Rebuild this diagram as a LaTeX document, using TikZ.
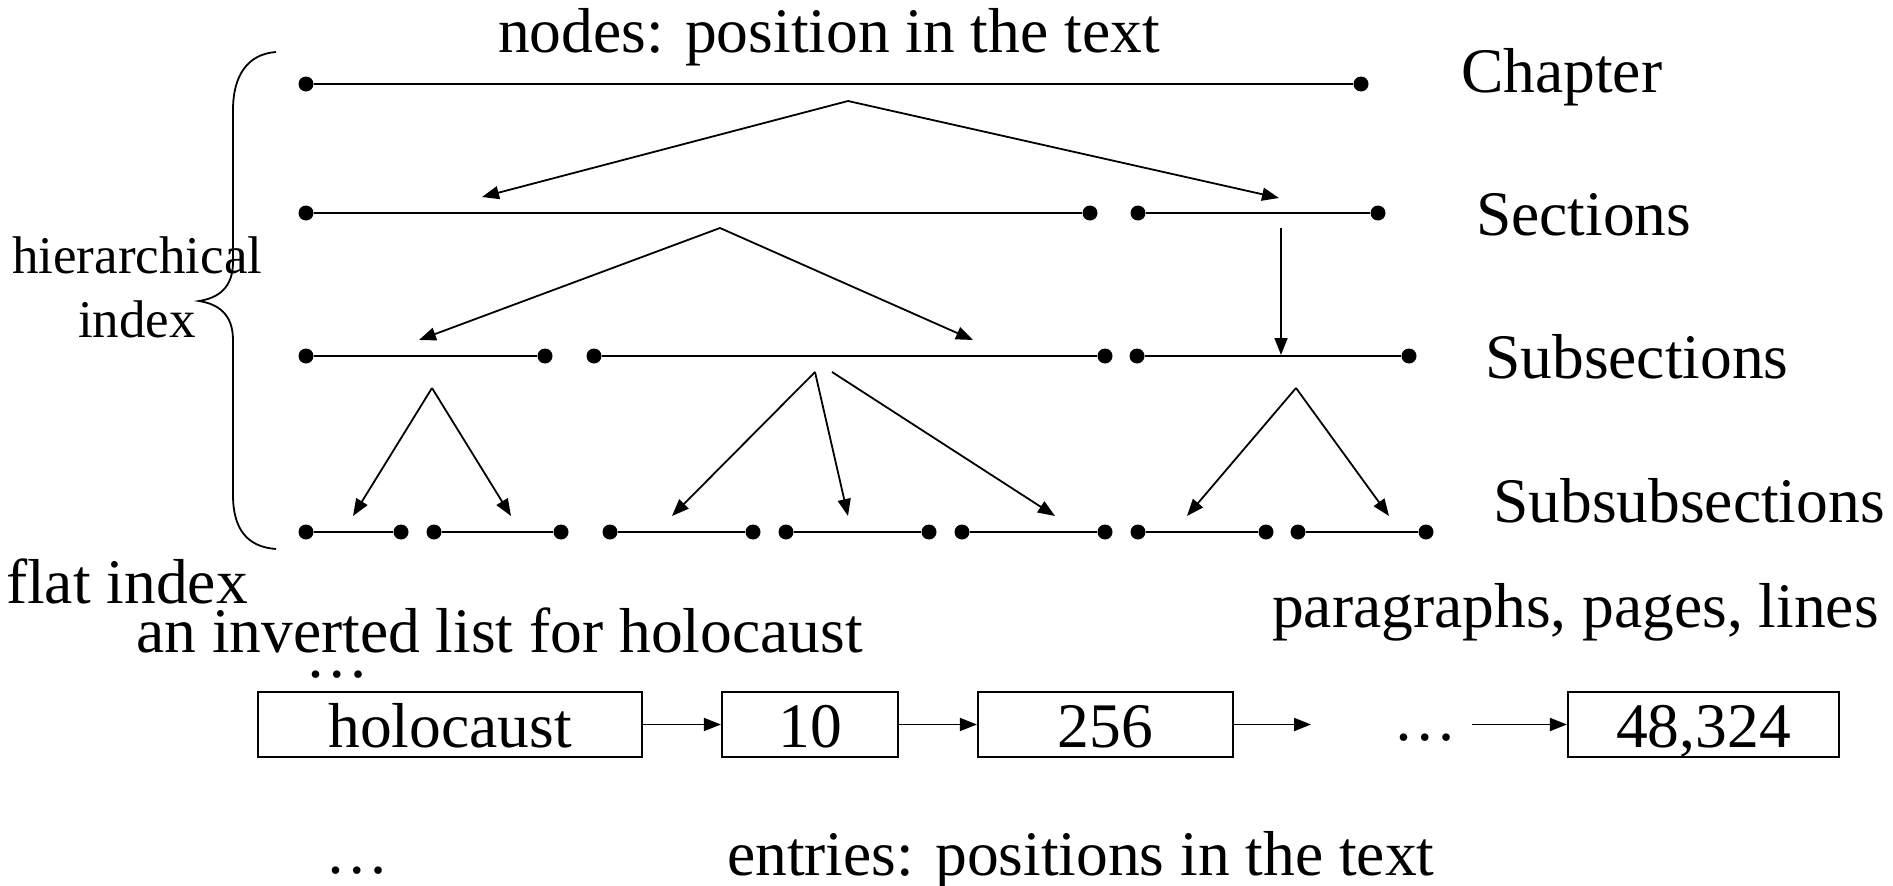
\documentclass[tikz,border=0pt]{standalone}
\usepackage{fontspec}
\setmainfont{Liberation Serif}
\usetikzlibrary{arrows.meta}
\newcommand{\mkseg}[4]{%
  \node[dotpt] (#1a) at (#2,#4) {};
  \node[dotpt] (#1b) at (#3,#4) {};
  \draw[segline] (#1a) -- (#1b);}
\begin{document}
\begin{tikzpicture}[x=1pt,y=-1pt,
  big/.style={font=\fontsize{63.5}{70}\selectfont, inner sep=0pt, anchor=base west},
  small/.style={font=\fontsize{53}{60}\selectfont, inner sep=0pt, anchor=base west},
  dotpt/.style={circle, fill=black, inner sep=0pt, minimum size=15pt},
  segline/.style={line width=2.6pt},
  arr/.style={line width=1.8pt, -{Triangle[length=17pt,width=13pt]}},
  listbox/.style={draw, line width=2.2pt, font=\fontsize{63.5}{70}\selectfont,
    minimum height=65pt, inner sep=0pt, text height=45pt, text depth=0pt, anchor=center}
]
\useasboundingbox (0,0) rectangle (1893,886);

% ---- texts
\node[big] (title) at (498,52) {nodes: position in the text};
\node[big] (lchap) at (1461,92) {Chapter};
\node[big] (lsec) at (1476,235) {Sections};
\node[big] (lsub) at (1485,378) {Subsections};
\node[big] (lsubsub) at (1493,522) {Subsubsections};
\node[big] (lpar) at (1272,627) {paragraphs, pages, lines};
\node[small] (lhier) at (12,273) {hierarchical};
\node[small] (lidx) at (78,337) {index};
\node[big] (lflat) at (6,603) {flat index};
\node[big] (linv) at (136,652) {an inverted list for holocaust};
\node[big] (dotsA) at (305,677) {…};
\node[big] (dotsB) at (325,873) {…};
\node[big] (lent) at (727,875) {entries: positions in the text};
\node[big] (dotsC) at (1393,740) {…};

% ---- brace
\draw[line width=1.8pt] (276,52) .. controls (248,54) and (233,75) .. (233,110)
  -- (233,262) .. controls (233,288) and (218,298) .. (199,301)
  .. controls (218,304) and (233,314) .. (233,340)
  -- (233,495) .. controls (233,530) and (248,547) .. (276,549);

% ---- segments
\mkseg{ch}{306}{1361}{84}
\mkseg{sA}{306}{1090}{213}
\mkseg{sB}{1138}{1378}{213}
\mkseg{uA}{306}{545}{356}
\mkseg{uB}{594}{1105}{356}
\mkseg{uC}{1137}{1409}{356}
\mkseg{wA}{306}{401}{532}
\mkseg{wB}{434}{561}{532}
\mkseg{wC}{610}{753}{532}
\mkseg{wD}{786}{929}{532}
\mkseg{wE}{962}{1105}{532}
\mkseg{wF}{1138}{1266}{532}
\mkseg{wG}{1298}{1426}{532}

% ---- hierarchy arrows
\coordinate (c0) at (848,101);
\coordinate (c1) at (482,197);
\coordinate (c2) at (1279,198);
\draw[arr] (c0) -- (c1);
\draw[arr] (c0) -- (c2);

\coordinate (s0) at (720,228);
\coordinate (s1) at (419,340);
\coordinate (s2) at (973,340);
\draw[arr] (s0) -- (s1);
\draw[arr] (s0) -- (s2);
\coordinate (t0) at (1281,228);
\coordinate (t1) at (1281,355);
\draw[arr] (t0) -- (t1);

\coordinate (u0) at (432,388);
\coordinate (u01) at (353,516);
\coordinate (u02) at (511,516);
\draw[arr] (u0) -- (u01);
\draw[arr] (u0) -- (u02);
\coordinate (u1) at (815,372);
\coordinate (u11) at (672,516);
\coordinate (u12) at (848,516);
\draw[arr] (u1) -- (u11);
\draw[arr] (u1) -- (u12);
\coordinate (u2) at (832,372);
\coordinate (u21) at (1055,516);
\draw[arr] (u2) -- (u21);
\coordinate (u3) at (1296,388);
\coordinate (u31) at (1187,516);
\coordinate (u32) at (1389,516);
\draw[arr] (u3) -- (u31);
\draw[arr] (u3) -- (u32);

% ---- inverted list
\node[listbox, minimum width=384pt] (hol) at (450,724.5) {holocaust};
\node[listbox, minimum width=176pt] (ten) at (810,724.5) {10};
\node[listbox, minimum width=255pt] (b256) at (1105.5,724.5) {256};
\node[listbox, minimum width=271pt] (b48) at (1703.5,724.5) {48,324};
\coordinate (e1) at (1311,724.5);
\coordinate (e2) at (1472,724.5);
\draw[arr] (hol.east) -- (ten.west);
\draw[arr] (ten.east) -- (b256.west);
\draw[arr] (b256.east) -- (e1);
\draw[arr] (e2) -- (b48.west);
\end{tikzpicture}
\end{document}
